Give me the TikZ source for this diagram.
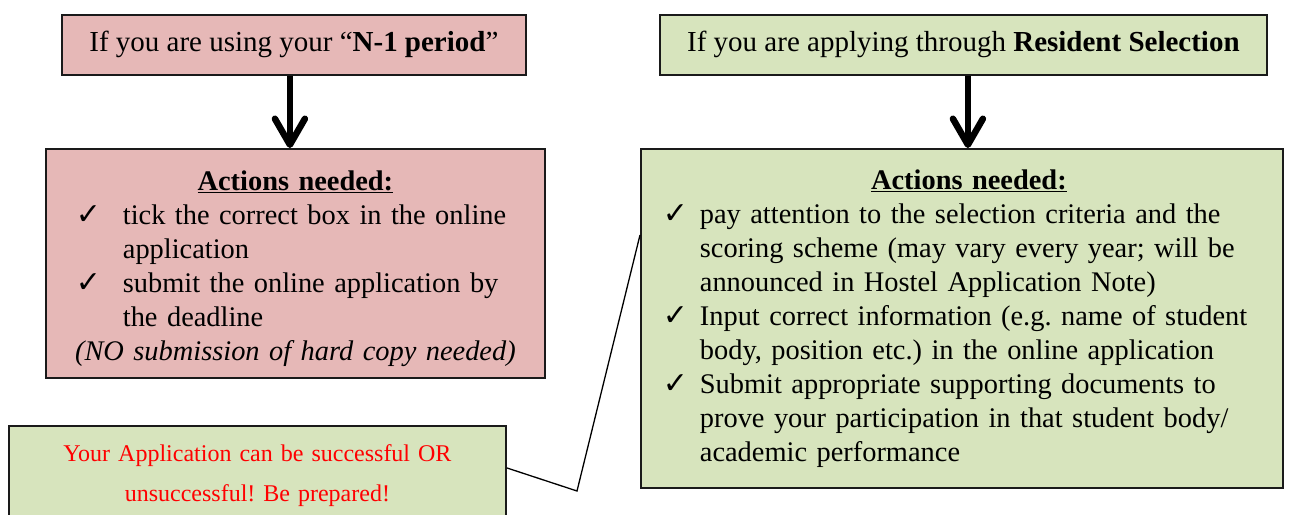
\documentclass[tikz,border=0pt]{standalone}
\usepackage{fontspec}
\setmainfont{Liberation Serif}
\newfontfamily\chkfont{DejaVu Sans}
\usetikzlibrary{arrows.meta}
\definecolor{pinkfill}{HTML}{E6B8B7}
\definecolor{greenfill}{HTML}{D7E4BD}
\definecolor{edgecol}{HTML}{1A1A1A}
\frenchspacing
\newcommand\chkitem[3]{{\raggedright\hangindent=\dimexpr#1+#2\relax\hangafter=1\noindent\hspace*{#1}\makebox[#2][l]{\smash{\chkfont\bfseries\fontsize{30}{34}\selectfont ✓}}#3\par}}
\tikzset{
  boxbase/.style={draw=edgecol, line width=1.8pt, rectangle, anchor=north west, inner sep=0pt,
    font=\fontsize{29}{34}\selectfont},
  pinkbox/.style={boxbase, fill=pinkfill},
  greenbox/.style={boxbase, fill=greenfill},
  actfont/.style={font=\fontsize{28.4}{34}\selectfont},
  bigarrow/.style={line width=6.5pt, -{Straight Barb[length=26pt,width=30pt,round]}},
  callline/.style={line width=1.3pt, draw=black, line join=miter}
}
\begin{document}
\begin{tikzpicture}[x=1pt,y=-1pt]
\useasboundingbox (0,0) rectangle (1295,514);
\begin{scope}
\clip (0,0) rectangle (1295,514);
\node[pinkbox, minimum width=464pt, minimum height=60pt] (n1) at (61,14)
  {If you are using your “\textbf{N-1 period}”};
\node[greenbox, minimum width=607pt, minimum height=60pt] (rs) at (659,14)
  {If you are applying through \textbf{Resident Selection}};
\node[pinkbox, actfont, minimum width=499pt, minimum height=229pt, text width=499pt] (act1) at (45,148)
  {{\centering\rule{0pt}{31pt}\bfseries\underline{Actions needed:}\par}
   \chkitem{30pt}{47pt}{tick the correct box in the online\newline application}
   \chkitem{30pt}{47pt}{submit the online application by\newline the deadline}
   {\centering\itshape (NO submission of hard copy needed)\par}};
\node[greenbox, actfont, minimum width=642pt, minimum height=339pt, text width=642pt] (act2) at (640,148)
  {{\centering\hspace*{14pt}\bfseries\underline{Actions needed:}\par}
   \chkitem{22pt}{37pt}{pay attention to the selection criteria and the\newline scoring scheme (may vary every year; will be\newline announced in Hostel Application Note)}
   \chkitem{22pt}{37pt}{Input correct information (e.g. name of student\newline body, position etc.) in the online application}
   \chkitem{22pt}{37pt}{Submit appropriate supporting documents to\newline prove your participation in that student body/\newline academic performance}};
\node[boxbase, fill=greenfill, minimum width=497pt, minimum height=100pt, text width=497pt, align=center,
  font=\fontsize{24}{40}\selectfont, text=red] (call) at (8,425)
  {Your Application can be successful OR\\unsuccessful! Be prepared!};
\draw[bigarrow] ([xshift=-4pt]n1.south) -- ([xshift=-4pt]n1.south |- act1.north);
\draw[bigarrow] ([xshift=4.5pt]rs.south) -- ([xshift=4.5pt]rs.south |- act2.north);
\coordinate (bend) at (577,491);
\draw[callline] ([yshift=8pt]call.east) -- (bend) -- ([yshift=-87pt]act2.north west);
\end{scope}
\end{tikzpicture}
\end{document}
